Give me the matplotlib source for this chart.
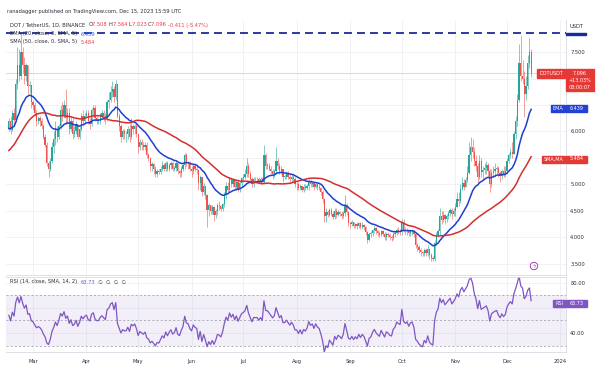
import numpy as np
import pandas as pd
import matplotlib
matplotlib.use('Agg')
import matplotlib.pyplot as plt
import matplotlib.dates as mdates
from matplotlib.patches import Rectangle

# daily closes before the visible window (Dec 27 2022 - Feb 14 2023), only to warm up EMA/SMA/RSI
warmup_close = [4.45, 4.35, 4.30, 4.35, 4.33,
                 4.37, 4.40, 4.52, 4.48, 4.44, 4.58, 4.62, 4.72, 5.02, 4.98, 5.15, 5.38, 5.62, 5.90, 5.70,
                 5.82, 5.88, 5.62, 5.72, 6.12, 6.25, 6.10, 6.22, 6.38, 6.12, 6.30, 6.25, 6.42, 6.72, 6.38, 6.30,
                 6.50, 6.38, 6.58, 6.42, 6.25, 6.40, 6.30, 6.02, 5.80, 5.72, 5.88, 5.78, 5.92, 6.05]

# DOT/USDT daily candles, Feb 15 - Dec 15 2023
close_feb = [6.20, 6.02, 6.35, 6.22, 6.90, 7.25, 7.05, 7.50, 7.25, 7.05, 7.25, 6.85, 6.88, 6.55]
high_feb = [6.25, 6.30, 6.40, 6.45, 7.00, 7.60, 7.55, 7.85, 7.60, 7.40, 7.30, 7.15, 6.95, 6.85]
low_feb = [6.00, 5.95, 6.00, 6.15, 6.20, 6.80, 6.95, 7.00, 7.10, 6.90, 6.95, 6.70, 6.72, 6.45]

close_mar = [6.50, 6.35, 6.20, 6.25, 6.20, 6.10, 5.90, 5.75, 5.40, 5.30, 5.45, 5.70, 5.85, 6.05, 5.90, 6.10,
             6.40, 6.30, 6.50, 6.25, 6.35, 6.05, 6.20, 5.95, 6.00, 6.15, 5.90, 6.05, 6.30, 6.20, 6.30]
high_mar = [6.60, 6.55, 6.40, 6.30, 6.30, 6.25, 6.15, 5.95, 5.80, 5.45, 5.50, 5.80, 6.00, 6.20, 6.10, 6.15,
            6.50, 6.55, 6.60, 6.80, 6.45, 6.45, 6.30, 6.25, 6.10, 6.20, 6.15, 6.10, 6.35, 6.40, 6.35]
low_mar = [6.40, 6.30, 6.10, 6.15, 6.10, 6.05, 5.85, 5.70, 5.35, 5.15, 5.25, 5.40, 5.60, 5.75, 5.80, 5.85,
           6.05, 6.20, 6.25, 6.15, 6.15, 5.95, 6.00, 5.85, 5.90, 5.95, 5.85, 5.85, 6.00, 6.10, 6.15]

close_apr = [6.35, 6.20, 6.15, 6.40, 6.45, 6.25, 6.20, 6.20, 6.30, 6.35, 6.30, 6.25, 6.55, 6.60, 6.75,
             6.80, 6.65, 6.90, 6.30, 6.10, 5.90, 6.00, 5.95, 5.95, 6.05, 5.90, 6.10, 6.05, 6.10, 5.95]
high_apr = [6.40, 6.40, 6.25, 6.45, 6.50, 6.50, 6.30, 6.25, 6.35, 6.40, 6.40, 6.35, 6.60, 6.75, 6.85,
            6.95, 6.85, 6.97, 6.90, 6.35, 6.15, 6.05, 6.05, 6.00, 6.10, 6.15, 6.25, 6.15, 6.15, 6.15]
low_apr = [6.25, 6.15, 6.05, 6.10, 6.30, 6.20, 6.15, 6.15, 6.15, 6.25, 6.20, 6.15, 6.20, 6.45, 6.55,
           6.65, 6.55, 6.60, 6.25, 6.00, 5.80, 5.85, 5.85, 5.80, 5.85, 5.80, 5.85, 5.95, 5.95, 5.90]

close_may = [5.70, 5.80, 5.75, 5.70, 5.75, 5.55, 5.50, 5.35, 5.38, 5.30, 5.20, 5.26, 5.24, 5.30, 5.36, 5.30,
             5.40, 5.30, 5.36, 5.40, 5.30, 5.32, 5.40, 5.25, 5.22, 5.30, 5.36, 5.55, 5.42, 5.40, 5.30]
high_may = [5.95, 5.85, 5.85, 5.80, 5.80, 5.80, 5.60, 5.50, 5.42, 5.40, 5.35, 5.30, 5.30, 5.35, 5.45, 5.40,
            5.45, 5.45, 5.40, 5.45, 5.45, 5.35, 5.45, 5.40, 5.28, 5.35, 5.40, 5.60, 5.60, 5.45, 5.45]
low_may = [5.60, 5.65, 5.65, 5.65, 5.65, 5.50, 5.45, 5.25, 5.25, 5.20, 5.15, 5.15, 5.20, 5.20, 5.25, 5.25,
           5.25, 5.25, 5.25, 5.30, 5.25, 5.25, 5.25, 5.20, 5.15, 5.15, 5.25, 5.30, 5.35, 5.30, 5.25]

close_jun = [5.25, 5.35, 5.30, 5.28, 5.02, 5.15, 4.85, 4.98, 4.80, 4.52, 4.62, 4.50, 4.58, 4.42, 4.50,
             4.62, 4.60, 4.54, 4.64, 4.82, 4.98, 4.90, 5.10, 5.00, 5.08, 4.95, 5.05, 4.92, 5.02, 5.12]
high_jun = [5.35, 5.40, 5.40, 5.35, 5.30, 5.18, 5.15, 5.02, 4.98, 4.82, 4.66, 4.62, 4.62, 4.60, 4.54,
            4.66, 4.68, 4.62, 4.66, 4.86, 5.05, 5.05, 5.15, 5.15, 5.12, 5.10, 5.10, 5.10, 5.06, 5.15]
low_jun = [5.15, 5.20, 5.25, 5.20, 4.90, 4.90, 4.78, 4.80, 4.72, 4.20, 4.40, 4.44, 4.44, 4.32, 4.36,
           4.42, 4.52, 4.50, 4.50, 4.58, 4.72, 4.85, 4.85, 4.95, 4.95, 4.90, 4.90, 4.86, 4.86, 4.95]

close_jul = [5.15, 5.20, 5.35, 5.20, 5.10, 5.00, 5.10, 5.10, 5.10, 5.05, 5.10, 5.05, 5.55, 5.35, 5.35, 5.30,
             5.25, 5.20, 5.25, 5.45, 5.35, 5.25, 5.30, 5.15, 5.15, 5.20, 5.15, 5.10, 5.15, 5.10, 5.00]
high_jul = [5.20, 5.30, 5.50, 5.40, 5.25, 5.15, 5.15, 5.15, 5.15, 5.15, 5.15, 5.15, 5.75, 5.60, 5.40, 5.40,
            5.35, 5.30, 5.30, 5.70, 5.50, 5.40, 5.35, 5.30, 5.20, 5.25, 5.25, 5.20, 5.20, 5.20, 5.15]
low_jul = [5.05, 5.10, 5.15, 5.15, 5.05, 4.95, 4.95, 5.05, 5.05, 5.00, 5.00, 5.00, 5.00, 5.30, 5.30, 5.25,
           5.20, 5.10, 5.15, 5.20, 5.30, 5.20, 5.20, 5.05, 5.10, 5.10, 5.10, 5.05, 5.05, 5.05, 4.95]

close_aug = [5.00, 4.93, 4.98, 4.90, 4.96, 4.93, 4.97, 5.06, 5.00, 5.02, 4.95, 5.01, 4.96, 4.94, 4.85, 4.72,
             4.40, 4.48, 4.42, 4.52, 4.45, 4.38, 4.50, 4.42, 4.48, 4.45, 4.40, 4.46, 4.62, 4.48, 4.28]
high_aug = [5.05, 5.05, 5.00, 4.98, 5.00, 5.00, 5.00, 5.10, 5.10, 5.06, 5.05, 5.05, 5.02, 5.00, 4.96, 4.90,
            4.75, 4.55, 4.52, 4.56, 4.55, 4.50, 4.55, 4.55, 4.52, 4.50, 4.50, 4.50, 4.80, 4.65, 4.50]
low_aug = [4.90, 4.90, 4.90, 4.85, 4.85, 4.90, 4.90, 4.90, 4.95, 4.95, 4.90, 4.94, 4.90, 4.90, 4.80, 4.65,
           4.30, 4.30, 4.38, 4.40, 4.40, 4.34, 4.35, 4.36, 4.40, 4.40, 4.35, 4.36, 4.40, 4.42, 4.22]

close_sep = [4.26, 4.30, 4.22, 4.26, 4.21, 4.27, 4.20, 4.24, 4.20, 4.10, 3.96, 4.06, 4.08, 4.14, 4.18,
             4.12, 4.08, 4.05, 4.12, 4.06, 4.00, 4.06, 4.04, 4.00, 3.99, 4.06, 4.08, 4.14, 4.12, 4.11]
high_sep = [4.30, 4.33, 4.30, 4.28, 4.30, 4.30, 4.30, 4.30, 4.26, 4.22, 4.12, 4.10, 4.12, 4.16, 4.22,
            4.20, 4.15, 4.12, 4.15, 4.15, 4.10, 4.10, 4.10, 4.08, 4.05, 4.10, 4.12, 4.17, 4.20, 4.16]
low_sep = [4.18, 4.22, 4.18, 4.18, 4.16, 4.18, 4.16, 4.16, 4.15, 4.05, 3.90, 3.94, 4.00, 4.02, 4.08,
           4.06, 4.02, 4.00, 4.02, 4.02, 3.95, 3.96, 4.00, 3.96, 3.94, 3.96, 4.00, 4.04, 4.06, 4.05]

close_oct = [4.30, 4.15, 4.12, 4.14, 4.08, 4.12, 4.13, 4.06, 3.86, 3.82, 3.76, 3.72, 3.70, 3.76, 3.71, 3.78,
             3.66, 3.62, 3.60, 3.90, 4.05, 4.12, 4.40, 4.33, 4.42, 4.34, 4.40, 4.46, 4.52, 4.44, 4.50]
high_oct = [4.35, 4.35, 4.20, 4.17, 4.16, 4.15, 4.16, 4.15, 4.10, 3.90, 3.85, 3.80, 3.75, 3.80, 3.80, 3.85,
            3.80, 3.70, 3.65, 3.95, 4.10, 4.16, 4.55, 4.50, 4.50, 4.45, 4.45, 4.50, 4.56, 4.55, 4.55]
low_oct = [4.05, 4.10, 4.05, 4.04, 4.02, 4.02, 4.05, 4.00, 3.80, 3.75, 3.70, 3.65, 3.65, 3.65, 3.65, 3.65,
           3.60, 3.55, 3.55, 3.55, 3.85, 4.00, 4.05, 4.25, 4.30, 4.25, 4.30, 4.35, 4.40, 4.35, 4.40]

close_nov = [4.58, 4.72, 4.68, 4.92, 5.02, 4.96, 5.08, 5.22, 5.55, 5.70, 5.62, 5.45, 5.35, 5.15, 5.45,
             5.24, 5.28, 5.32, 5.36, 5.26, 5.00, 5.22, 5.26, 5.30, 5.32, 5.22, 5.16, 5.26, 5.20, 5.25]
high_nov = [4.65, 4.85, 4.85, 5.00, 5.15, 5.10, 5.15, 5.35, 5.80, 5.90, 5.85, 5.70, 5.55, 5.40, 5.55,
            5.50, 5.35, 5.40, 5.45, 5.40, 5.30, 5.30, 5.35, 5.40, 5.35, 5.35, 5.25, 5.30, 5.35, 5.35]
low_nov = [4.40, 4.55, 4.60, 4.66, 4.90, 4.90, 4.95, 5.05, 5.20, 5.45, 5.50, 5.35, 5.25, 5.05, 5.10,
           5.15, 5.10, 5.20, 5.20, 5.15, 4.85, 4.95, 5.15, 5.15, 5.20, 5.15, 5.05, 5.10, 5.15, 5.15]

close_dec = [5.45, 5.55, 5.62, 5.58, 5.95, 6.20, 6.60, 7.30, 7.05, 7.00, 6.70, 6.85, 7.30, 7.508, 7.096]
high_dec = [5.50, 5.60, 5.68, 5.80, 6.00, 6.30, 6.70, 7.65, 7.80, 7.35, 7.15, 7.05, 7.45, 7.76, 7.564]
low_dec = [5.20, 5.40, 5.50, 5.50, 5.60, 5.85, 6.10, 6.55, 6.95, 6.90, 6.27, 6.60, 6.80, 7.20, 7.023]

resistance = 7.86
month_labels = ['Mar', 'Apr', 'May', 'Jun', 'Jul', 'Aug', 'Sep', 'Oct', 'Nov', 'Dec', '2024']

close = np.array(close_feb + close_mar + close_apr + close_may + close_jun + close_jul +
                 close_aug + close_sep + close_oct + close_nov + close_dec)
high = np.array(high_feb + high_mar + high_apr + high_may + high_jun + high_jul +
                high_aug + high_sep + high_oct + high_nov + high_dec)
low = np.array(low_feb + low_mar + low_apr + low_may + low_jun + low_jul +
               low_aug + low_sep + low_oct + low_nov + low_dec)
dates = pd.date_range('2023-02-15', periods=len(close), freq='D')
xd = mdates.date2num(dates)
opn = np.r_[warmup_close[-1], close[:-1]]
high = np.maximum(high, np.maximum(opn, close))
low = np.minimum(low, np.minimum(opn, close))

# indicators
c_all = pd.Series(warmup_close + list(close))
nw = len(warmup_close)
ema20 = c_all.ewm(span=20, adjust=False).mean().values[nw:]
sma50 = c_all.rolling(50).mean().values[nw:]
delta = c_all.diff()
up = delta.clip(lower=0).ewm(alpha=1 / 14, adjust=False).mean()
dn = (-delta.clip(upper=0)).ewm(alpha=1 / 14, adjust=False).mean()
rsi = (100 - 100 / (1 + up / dn)).values[nw:]

W, H = 600, 377
fig = plt.figure(figsize=(W / 100, H / 100), dpi=100)


def fx(p):
    return p / W


def fy(p):
    return 1 - p / H


ax = fig.add_axes([fx(6), fy(275), fx(566) - fx(6), fy(20) - fy(275)])
ax2 = fig.add_axes([fx(6), fy(352), fx(566) - fx(6), fy(277) - fy(352)], sharex=ax)

mar1 = mdates.date2num(pd.Timestamp('2023-03-01'))
dpp = 275 / 474  # days per pixel
ax.set_xlim(mar1 - 27 * dpp, mar1 + 275 + 59 * dpp)
ax.set_ylim(3.292, 8.104)
ax2.set_ylim(24.9, 84.6)

grid_c = '#eef0f5'
month_ticks = mdates.date2num(pd.date_range('2023-03-01', '2024-01-01', freq='MS'))

# candles
up_c, dn_c = '#26a69a', '#ef5350'
cols = np.where(close >= opn, up_c, dn_c)
ax.vlines(xd, low, high, colors=cols, lw=0.5, alpha=0.8, zorder=2)
body = np.maximum(np.abs(close - opn), 0.012)
ax.bar(xd, body, bottom=np.minimum(opn, close), width=0.72, color=cols, lw=0, zorder=3)

ax.plot(xd, ema20, color='#1f3fd0', lw=1.1, zorder=4)
ax.plot(xd, sma50, color='#d32f2f', lw=1.1, zorder=4)
ax.axhline(resistance, color='#1b2a9b', lw=1.3, dashes=(4.4, 2.8), zorder=4)
ax.axhline(close[-1], color='#ef5350', lw=0.6, alpha=0.35, zorder=1)

for a in (ax, ax2):
    a.set_xticks(month_ticks)
    a.grid(True, color=grid_c, lw=0.6)
    a.set_axisbelow(True)
    for s in ('left', 'top'):
        a.spines[s].set_visible(False)
    for s in ('right', 'bottom'):
        a.spines[s].set_color('#d8dbe3')
        a.spines[s].set_linewidth(0.6)
    a.yaxis.tick_right()
    a.tick_params(length=0, labelsize=3.7, labelcolor='#2a2e39', pad=3)

# labels hidden under the price tags are left blank
price_ticks = np.arange(3.5, 7.51, 0.5)
ax.set_yticks(price_ticks)
ax.set_yticklabels(['' if v in (5.5, 6.5, 7.0) else '%.3f' % v for v in price_ticks])
ax.tick_params(axis='x', labelbottom=False)

# RSI pane
ax2.axhspan(30, 70, color='#7e57c2', alpha=0.09, lw=0)
for lvl in (70, 50, 30):
    ax2.axhline(lvl, color='#a3a6af', lw=0.6, dashes=(2.5, 2.5))
ax2.plot(xd, rsi, color='#7e57c2', lw=0.9)
ax2.set_yticks([40, 60, 80])
ax2.set_yticklabels(['40.00', '', '80.00'])
ax2.set_xticklabels(month_labels)
ax2.tick_params(axis='x', pad=5)
ax2.spines['top'].set_visible(True)
ax2.spines['top'].set_color('#d8dbe3')
ax2.spines['top'].set_linewidth(0.6)

# header texts
renderer = fig.canvas.get_renderer()


def rich(x, y, parts, size=3.7):
    x = fx(x)
    for s, col in parts:
        t = fig.text(x, fy(y), s, color=col, fontsize=size, va='center', ha='left', zorder=6)
        x += t.get_window_extent(renderer=renderer).width / W


dark = '#2a2e39'
red = '#f23645'
rich(7, 12, [('ranadagger published on TradingView.com, Dec 15, 2023 15:59 UTC', dark)])
rich(10, 25, [('DOT / TetherUS, 1D, BINANCE  ', dark), ('O', dark), ('7.508 ', red), ('H', dark), ('7.564 ', red),
              ('L', dark), ('7.023 ', red), ('C', dark), ('7.096 ', red), ('-0.411 (-5.47%)', red)])
rich(10, 34, [('EMA (20, close, 0, SMA, 5)  ', dark), ('6.439', '#2962ff')])
rich(10, 42, [('SMA (50, close, 0, SMA, 5)  ', dark), ('5.484', red)])
rich(10, 282, [('RSI (14, close, SMA, 14, 2)  ', dark), ('63.73', '#7e57c2'), ('  \u2205  \u2205  \u2205  \u2205', dark)])


def tag(x0, x1, y0, y1, color, lines, size=3.5):
    fig.patches.append(Rectangle((fx(x0), fy(y1)), fx(x1) - fx(x0), fy(y0) - fy(y1),
                                 transform=fig.transFigure, color=color, zorder=8))
    step = (y1 - y0) / len(lines)
    for i, s in enumerate(lines):
        fig.text(fx((x0 + x1) / 2), fy(y0 + step * (i + 0.5)), s, color='white', fontsize=size,
                 ha='center', va='center', zorder=9)


tag(537, 565, 69.5, 77.5, '#e53935', ['DOTUSDT'])
tag(566, 594, 69.5, 91, '#e53935', ['7.096', '+13.03%', '08:00:07'])
tag(551, 565, 105, 112, '#2441d6', ['EMA'])
tag(566, 587, 105, 112, '#2441d6', ['6.439'])
tag(542, 565, 155.5, 162.5, '#e53935', ['SMA,MA'])
tag(566, 587, 155.5, 162.5, '#e53935', ['5.484'])
tag(553, 565, 300, 307, '#7e57c2', ['RSI'])
tag(566, 587, 300, 307, '#7e57c2', ['63.73'])

# price scale header
fig.text(fx(576), fy(27), 'USDT', color=dark, fontsize=3.7, ha='center', va='center')
fig.patches.append(Rectangle((fx(566), fy(35)), fx(586) - fx(566), fy(33.5) - fy(35),
                             transform=fig.transFigure, color='#1b2a9b', zorder=8))
# cover the part of the 2024 label under the price scale
fig.patches.append(Rectangle((fx(566.5), 0), 1 - fx(566.5), fy(355), transform=fig.transFigure,
                             color='white', zorder=10))

# alert icon
fig.text(fx(534), fy(266), '\u03df', color='#9c27b0', fontsize=3.5, ha='center', va='center',
         bbox=dict(boxstyle='circle,pad=0.25', fc='white', ec='#9c27b0', lw=0.6))

fig.savefig('out.png', dpi=100, facecolor='white')
